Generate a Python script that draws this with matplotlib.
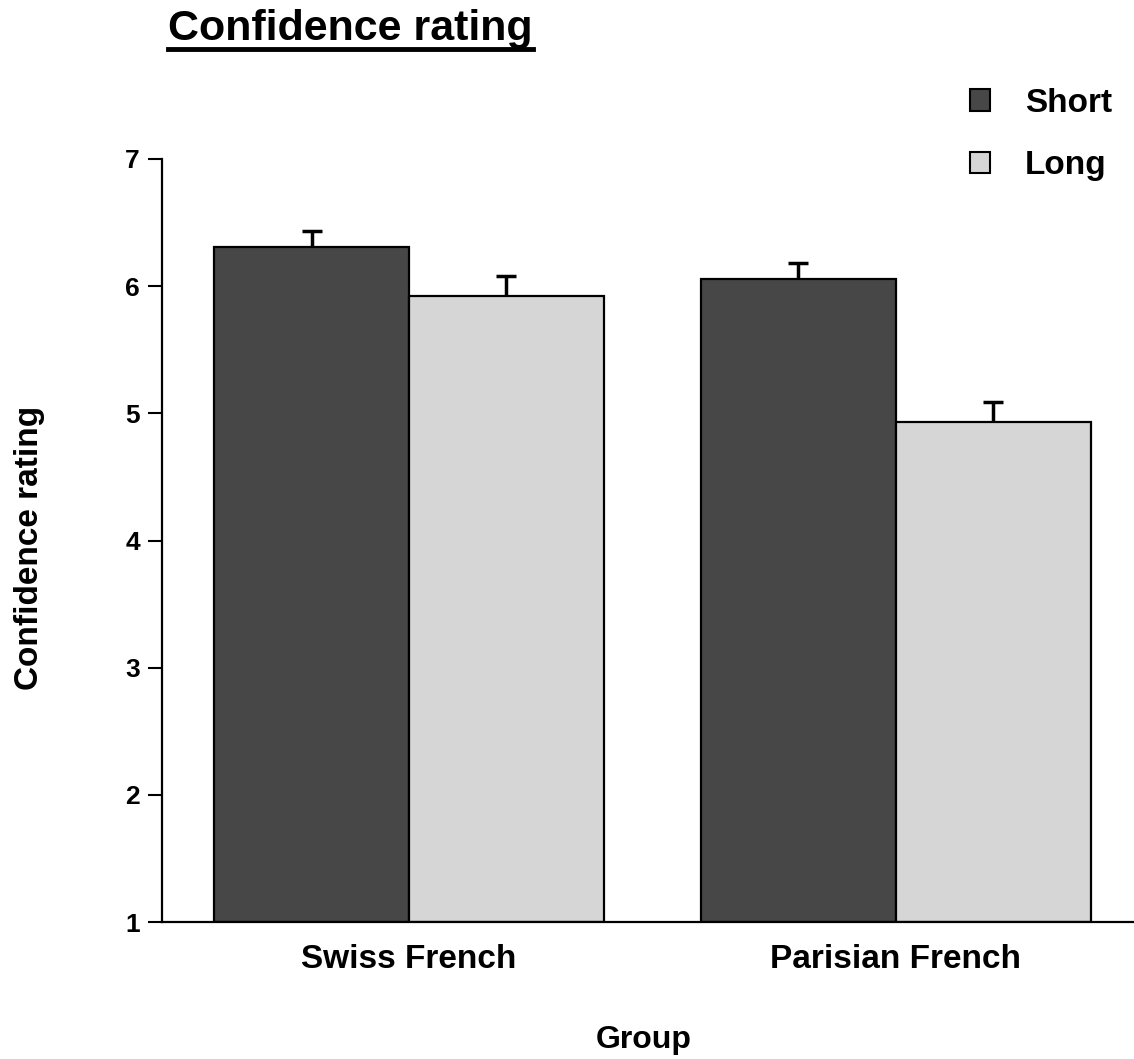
import numpy as np
import matplotlib.pyplot as plt
from matplotlib.patches import Patch

# valeurs
groupes = ["Swiss French", "Parisian French"]
series = ["Short", "Long"]
moy_short = [6.31, 6.06]
moy_long = [5.92, 4.93]
err_short = [0.12, 0.12]
err_long = [0.16, 0.16]

cores = {"Short": "#474747", "Long": "#d6d6d6"}

plt.rcParams["font.family"] = ["Liberation Sans", "DejaVu Sans"]
plt.rcParams["font.weight"] = "bold"

fig = plt.figure(figsize=(11.34, 10.59), dpi=100)
ax = fig.add_axes([162 / 1134, 1 - 922 / 1059, 1 - 162 / 1134, (922 - 159) / 1059])

x = np.arange(len(groupes))
larg = 0.40
for dx, nome, moy, err in [(-larg / 2, "Short", moy_short, err_short),
                           (larg / 2, "Long", moy_long, err_long)]:
    ax.bar(x + dx, np.array(moy) - 1, bottom=1, width=larg, color=cores[nome],
           edgecolor="black", linewidth=1.6, zorder=2)
    _, caps, _ = ax.errorbar(x + dx, moy, yerr=[np.zeros(len(err)), err], fmt="none",
                             ecolor="black", elinewidth=2.5, capsize=7,
                             capthick=2.5, zorder=3)
    caps[0].set_visible(False)  # pas de trait en bas

ax.set_ylim(1, 7)
ax.set_xlim(-0.507, 1.489)
ax.set_yticks(range(1, 8))
ax.set_xticks(x)
ax.set_xticklabels(groupes, fontsize=24, fontweight="bold")
ax.tick_params(axis="y", labelsize=19, length=10, width=1.5, pad=6)
ax.tick_params(axis="x", length=0, pad=16)
for s in ["top", "right"]:
    ax.spines[s].set_visible(False)
for s in ["left", "bottom"]:
    ax.spines[s].set_linewidth(1.6)

fig.text(30 / 1134, 1 - 548 / 1059, "Confidence rating", rotation=90,
         fontsize=24, fontweight="bold", ha="center", va="center")
fig.text(644 / 1134, 1 - 1040 / 1059, "Group", fontsize=23,
         fontweight="bold", ha="center", va="center")

# titre souligné
t = fig.text(168 / 1134, 1 - 40 / 1059, "Confidence rating", fontsize=31,
             fontweight="bold", ha="left", va="baseline")
fig.canvas.draw()
bb = t.get_window_extent().transformed(fig.transFigure.inverted())
fig.add_artist(plt.Line2D([bb.x0, bb.x1], [1 - 49 / 1059] * 2, color="black",
                          linewidth=3.5, transform=fig.transFigure))

poignees = [Patch(facecolor=cores[n], edgecolor="black", linewidth=1.5, label=n)
            for n in series]
fig.legend(handles=poignees, loc="upper right", bbox_to_anchor=(1.0, 1 - 66 / 1059),
           frameon=False, fontsize=24, handlelength=0.62, handleheight=0.62,
           handletextpad=1.05, labelspacing=0.95, borderaxespad=0.25)

fig.savefig("out.png", dpi=100)
